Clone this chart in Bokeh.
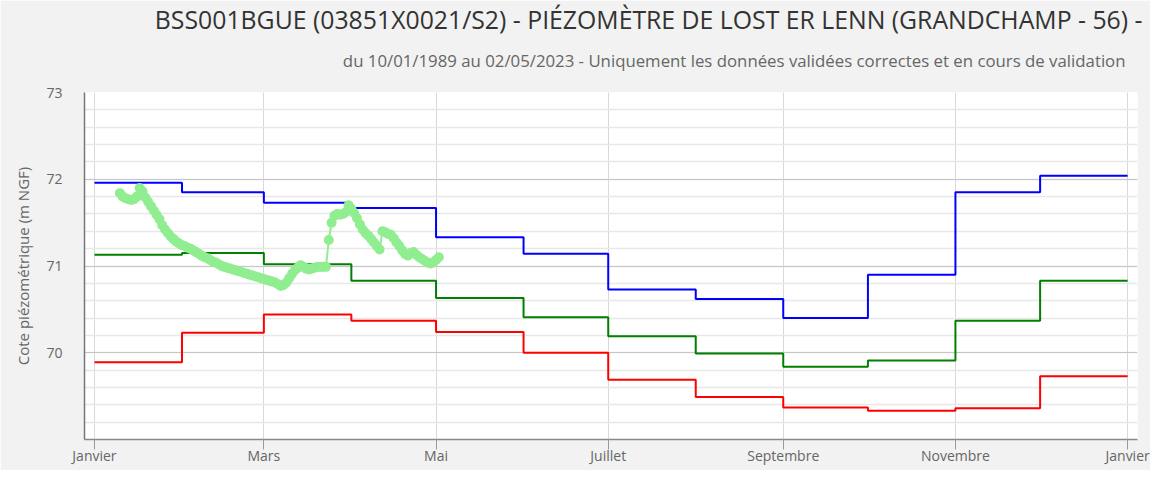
from bokeh.plotting import figure
from bokeh.models import FixedTicker, Title, Range1d
from bokeh.embed import file_html
from bokeh.resources import INLINE

# ---- data ----
month_starts = [0, 31, 60, 91, 121, 152, 182, 213, 244, 274, 305, 335, 366]
tick_days = [0, 60, 121, 182, 244, 305, 366]
tick_labels = ["Janvier", "Mars", "Mai", "Juillet", "Septembre", "Novembre", "Janvier"]

maxi = [71.96, 71.85, 71.73, 71.67, 71.33, 71.14, 70.73, 70.62, 70.40, 70.90, 71.85, 72.04]
moy = [71.13, 71.15, 71.02, 70.83, 70.63, 70.41, 70.19, 69.99, 69.84, 69.91, 70.37, 70.83]
mini = [69.89, 70.23, 70.44, 70.37, 70.24, 70.00, 69.69, 69.49, 69.37, 69.33, 69.36, 69.73]

obs_day = [9, 10, 11, 12, 13, 14, 15, 16, 17, 18, 19, 20, 21, 22, 23, 24, 25, 26, 27, 28,
           29, 30, 31, 32, 33, 34, 35, 36, 37, 38, 39, 40, 41, 42, 43, 44, 45, 46, 47, 48,
           49, 50, 51, 52, 53, 54, 55, 56, 57, 58, 59, 60, 61, 62, 63, 64, 65, 66, 67, 68,
           69, 70, 71, 72, 73, 74, 75, 76, 77, 78, 79, 80, 81, 82, 83, 84, 85, 86, 87, 88,
           89, 90, 91, 92, 93, 94, 95, 96, 97, 98, 99, 100, 101, 102, 103, 104, 105, 106,
           107, 108, 109, 110, 111, 112, 113, 114, 115, 116, 117, 118, 119, 120, 121, 122]
obs_val = [71.84, 71.80, 71.78, 71.77, 71.76, 71.77, 71.80, 71.90, 71.86, 71.79, 71.74,
           71.69, 71.64, 71.59, 71.54, 71.47, 71.42, 71.38, 71.34, 71.31, 71.28, 71.26,
           71.24, 71.23, 71.21, 71.20, 71.18, 71.16, 71.14, 71.12, 71.10, 71.09, 71.07,
           71.05, 71.04, 71.02, 71.00, 70.99, 70.98, 70.97, 70.96, 70.95, 70.94, 70.93,
           70.92, 70.91, 70.90, 70.89, 70.88, 70.87, 70.86, 70.85, 70.84, 70.83, 70.82,
           70.81, 70.79, 70.77, 70.78, 70.81, 70.86, 70.91, 70.95, 70.98, 71.01, 70.99,
           70.97, 70.96, 70.97, 70.98, 70.99, 70.99, 70.99, 70.99, 71.30, 71.50, 71.58,
           71.60, 71.59, 71.60, 71.62, 71.70, 71.66, 71.61, 71.55, 71.48, 71.42, 71.38,
           71.35, 71.31, 71.27, 71.23, 71.19, 71.40, 71.39, 71.37, 71.36, 71.32, 71.27,
           71.23, 71.18, 71.14, 71.12, 71.15, 71.16, 71.13, 71.10, 71.08, 71.06, 71.04,
           71.03, 71.04, 71.07, 71.10]

title_txt = "BSS001BGUE (03851X0021/S2) - PIÉZOMÈTRE DE LOST ER LENN (GRANDCHAMP - 56) -"
subtitle_txt = "du 10/01/1989 au 02/05/2023 - Uniquement les données validées correctes et en cours de validation"

FONT = "Open Sans"

p = figure(width=1150, height=470, output_backend="svg", toolbar_location=None,
           x_range=Range1d(-3.54, 369.5), y_range=Range1d(69, 73),
           min_border_left=84, min_border_right=13, min_border_top=92, min_border_bottom=31,
           background_fill_color="white", border_fill_color="#f2f2f2")
p.outline_line_color = None

sub = Title(text=subtitle_txt, align="right", offset=12, standoff=41, text_font=FONT,
            text_font_size="16.8px", text_font_style="normal", text_color="#666666")
p.add_layout(sub, "above")
main = Title(text=title_txt, align="right", offset=-5, standoff=-18, text_font=FONT,
             text_font_size="24.8px", text_font_style="normal", text_color="#333333")
p.add_layout(main, "above")

# grids
p.xgrid.ticker = FixedTicker(ticks=tick_days)
p.xgrid.grid_line_color = "#d8d8d8"
p.xgrid.grid_line_width = 1
yt = FixedTicker(ticks=[70, 71, 72, 73],
                 minor_ticks=[round(69 + 0.2 * i, 1) for i in range(21)])
p.yaxis.ticker = yt
p.ygrid.ticker = yt
p.ygrid.grid_line_color = "#c6c6c6"
p.ygrid.grid_line_width = 1
p.ygrid.minor_grid_line_color = "#e8e8e8"
p.ygrid.minor_grid_line_width = 1.5

# axes
p.xaxis.ticker = FixedTicker(ticks=tick_days)
p.xaxis.major_label_overrides = {d: l for d, l in zip(tick_days, tick_labels)}
p.xaxis.major_tick_out = 10
p.xaxis.major_tick_in = 0
p.xaxis.minor_tick_line_color = None
p.xaxis.major_tick_line_color = "#999999"
p.xaxis.axis_line_color = "#888888"
p.xaxis.axis_line_width = 1.5
p.xaxis.major_label_text_font = FONT
p.xaxis.major_label_text_font_size = "14px"
p.xaxis.major_label_text_color = "#666666"
p.xaxis.major_label_standoff = -4

p.yaxis.major_tick_line_color = None
p.yaxis.minor_tick_line_color = None
p.yaxis.axis_line_color = "#777777"
p.yaxis.axis_line_width = 1.5
p.yaxis.major_label_text_font = FONT
p.yaxis.major_label_text_font_size = "14px"
p.yaxis.major_label_text_color = "#666666"
p.yaxis.major_label_standoff = 16
p.yaxis.axis_label = "Cote piézométrique (m NGF)"
p.yaxis.axis_label_text_font = FONT
p.yaxis.axis_label_text_font_size = "15px"
p.yaxis.axis_label_text_font_style = "normal"
p.yaxis.axis_label_text_color = "#666666"
p.yaxis.axis_label_standoff = 10

# step lines
p.step(month_starts, maxi + [maxi[-1]], mode="after", line_color="#0000ff", line_width=2)
p.step(month_starts, moy + [moy[-1]], mode="after", line_color="#008000", line_width=2)
p.step(month_starts, mini + [mini[-1]], mode="after", line_color="#ff0000", line_width=2)

# observations
p.line(obs_day, obs_val, line_color="#90ee90", line_width=2)
p.scatter(obs_day, obs_val, size=10, fill_color="#90ee90", line_color=None)

open("out.html", "w").write(file_html(p, INLINE))
